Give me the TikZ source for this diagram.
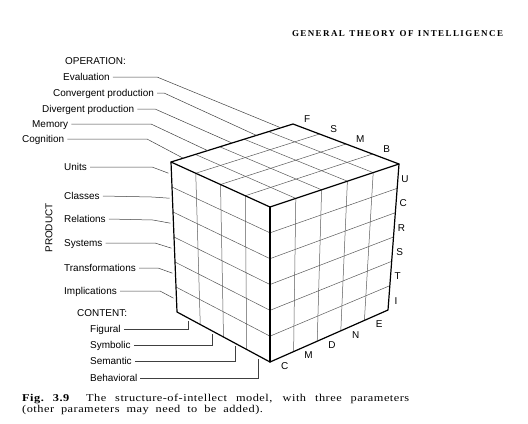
\documentclass[tikz,border=0pt]{standalone}
\usepackage{fontspec}
\setmainfont{Liberation Sans}
\newfontfamily\capserif[LetterSpace=4]{Liberation Serif}
\newfontfamily\headserif[LetterSpace=16]{Liberation Serif}
\usetikzlibrary{calc}
\begin{document}
\begin{tikzpicture}[x=1bp,y=-1bp,
  lab/.style={font=\fontsize{10}{12}\selectfont, inner sep=0pt, anchor=west, text height=7.2bp, text depth=0pt},
  facelab/.style={font=\fontsize{10}{12}\selectfont, inner sep=0pt},
  lead/.style={draw=black!75, line width=0.5bp},
  gridline/.style={draw=black!65, line width=0.5bp},
  edge/.style={draw=black, line width=1.2bp, line join=round, line cap=round}]
\useasboundingbox (0,0) rectangle (528,423);

% cube corners
\coordinate (A) at (171,162);
\coordinate (B) at (293,124);
\coordinate (R) at (399,164);
\coordinate (F) at (270,207);
\coordinate (Lb) at (177,312);
\coordinate (Fb) at (270,362);
\coordinate (Rb) at (388,310);

% grids
\foreach \i in {1,2,3} {
  \draw[gridline] ($(A)!\i/4!(F)$) -- ($(Lb)!\i/4!(Fb)$);
  \draw[gridline] ($(A)!\i/4!(F)$) -- ($(B)!\i/4!(R)$);
}
\foreach \j in {1,...,5} {
  \draw[gridline] ($(A)!\j/6!(Lb)$) -- ($(F)!\j/6!(Fb)$);
  \draw[gridline] ($(F)!\j/6!(Fb)$) -- ($(R)!\j/6!(Rb)$);
}
\foreach \k in {1,...,4} {
  \draw[gridline] ($(F)!\k/5!(R)$) -- ($(Fb)!\k/5!(Rb)$);
  \draw[gridline] ($(A)!\k/5!(B)$) -- ($(F)!\k/5!(R)$);
}

% edges
\draw[edge] (A) -- (B) -- (R) -- (Rb) -- (Fb) -- (Lb) -- cycle;
\draw[edge] (A) -- (F) -- (R);
\draw[edge] (F) -- (Fb);

% face letters
\foreach \l [count=\n from 0] in {F,S,M,B} {
  \node[facelab] (top\n) at ($(B)!{(\n+0.5)/4}!(R)+(1,-10)$) {\l};
}
\foreach \l [count=\n from 0] in {U,C,R,S,T,I} {
  \node[facelab] (rt\n) at ($(R)!{(\n+0.5)/6}!(Rb)+(7,3)$) {\l};
}
\foreach \l [count=\n from 0] in {C,M,D,N,E} {
  \node[facelab] (bt\n) at ($(Fb)!{(\n+0.5)/5}!(Rb)+(3,9)$) {\l};
}

% OPERATION
\node[lab] (op) at (65,61) {OPERATION:};
\node[lab] (ev) at (63,77) {Evaluation};
\node[lab] (cp) at (53,93) {Convergent production};
\node[lab] (dp) at (42,109) {Divergent production};
\node[lab] (me) at (32,124) {Memory};
\node[lab] (co) at (22,139) {Cognition};
\coordinate (ev1) at (157,77);
\coordinate (cp1) at (164,93);
\coordinate (dp1) at (155,109);
\coordinate (me1) at (151,124);
\coordinate (co1) at (147,139);
\coordinate (ev2) at ($(A)!0.9!(B)$);
\coordinate (cp2) at ($(A)!0.7!(B)$);
\coordinate (dp2) at ($(A)!0.5!(B)$);
\coordinate (me2) at ($(A)!0.3!(B)$);
\coordinate (co2) at ($(A)!0.1!(B)$);
\foreach \n in {ev,cp,dp,me,co} {
  \draw[lead] ($(\n.east)+(3,0)$) -- (\n1) -- (\n2);
}

% PRODUCT
\node[facelab, rotate=90] (prod) at (49,228) {PRODUCT};
\node[lab] (un) at (64,167) {Units};
\node[lab] (cl) at (64,196) {Classes};
\node[lab] (re) at (64,219) {Relations};
\node[lab] (sy) at (64,243) {Systems};
\node[lab] (tr) at (64,268) {Transformations};
\node[lab] (im) at (64,291) {Implications};
\coordinate (un1) at (152,167);
\coordinate (cl1) at (152,197);
\coordinate (re1) at (153,220);
\coordinate (sy1) at (155,243);
\coordinate (tr1) at (158,268);
\coordinate (im1) at (160,291);
\coordinate (un2) at ($(A)!1/12!(Lb)+(-3,-1.3)$);
\coordinate (cl2) at ($(A)!3/12!(Lb)+(-3,-1.3)$);
\coordinate (re2) at ($(A)!5/12!(Lb)+(-3,-1.3)$);
\coordinate (sy2) at ($(A)!7/12!(Lb)+(-3,-1.3)$);
\coordinate (tr2) at ($(A)!9/12!(Lb)+(-3,-1.3)$);
\coordinate (im2) at ($(A)!11/12!(Lb)+(-3,-1.3)$);
\foreach \n in {un,cl,re,sy,tr,im} {
  \draw[lead] ($(\n.east)+(3,0)$) -- (\n1) -- (\n2);
}

% CONTENT
\node[lab] (ct) at (77,313) {CONTENT:};
\node[lab] (fi) at (90,329) {Figural};
\node[lab] (sb) at (90,345) {Symbolic};
\node[lab] (se) at (90,361) {Semantic};
\node[lab] (be) at (90,378) {Behavioral};
\coordinate (fi2) at ($(Lb)!0.125!(Fb)+(0,3)$);
\coordinate (sb2) at ($(Lb)!0.375!(Fb)+(0,3)$);
\coordinate (se2) at ($(Lb)!0.625!(Fb)+(0,3)$);
\coordinate (be2) at ($(Lb)!0.875!(Fb)+(0,3)$);
\foreach \n in {fi,sb,se,be} {
  \draw[lead] ($(\n.east)+(3,0)$) -| (\n2);
}

% header and caption
\node[inner sep=0pt, anchor=center] (head) at (397.5,34)
  {\makebox[211bp][s]{\headserif\bfseries\fontsize{9}{10}\selectfont GENERAL THEORY OF INTELLIGENCE}};
\node[inner sep=0pt, anchor=base west] (cap1) at (22,401)
  {\scalebox{1.18}[1]{\makebox[328bp][s]{\capserif\fontsize{10.5}{12}\selectfont\textbf{Fig.~3.9}\hspace{0.6em} The structure-of-intellect model, with three parameters}}};
\node[inner sep=0pt, anchor=base west] (cap2) at (22,412)
  {\scalebox{1.18}[1]{\makebox[204bp][s]{\capserif\fontsize{10.5}{12}\selectfont (other parameters may need to be added).}}};
\end{tikzpicture}
\end{document}
